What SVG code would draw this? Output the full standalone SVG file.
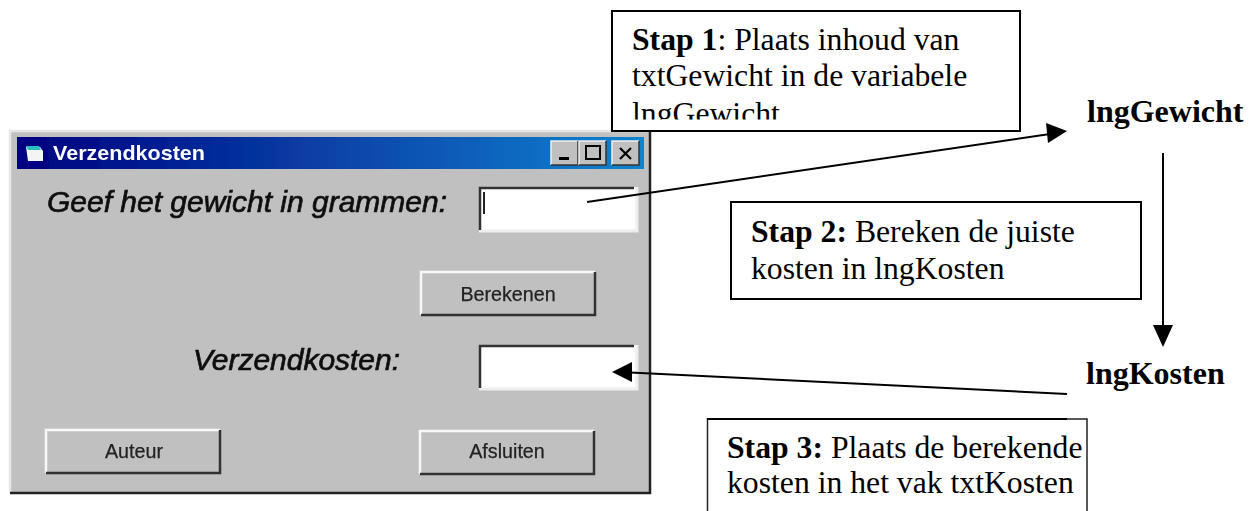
<svg xmlns="http://www.w3.org/2000/svg" width="1255" height="511" viewBox="0 0 1255 511">
<style>
.step{font-family:"Liberation Serif","Times New Roman",serif;font-size:31.700px;fill:#000}
.var{font-family:"Liberation Serif","Times New Roman",serif;font-size:32px;font-weight:bold;fill:#000}
.b{font-weight:bold}
.box{fill:#fff;stroke:#000;stroke-width:2}
.lbl{font-family:"Liberation Sans",Arial,sans-serif;font-size:29.500px;font-style:italic;fill:#111;stroke:#111;stroke-width:.7}
.btxt{font-family:"Liberation Sans",Arial,sans-serif;font-size:19.700px;fill:#222;stroke:#222;stroke-width:.25;text-anchor:middle}
.conn{stroke:#000;stroke-width:2;fill:none}
</style>
<defs>
<linearGradient id="title" x1="0" x2="1" y1="0" y2="0"><stop offset="0" stop-color="#000080"/><stop offset="1" stop-color="#1084d0"/></linearGradient>
<clipPath id="c1"><rect x="613" y="11" width="406" height="108.500"/></clipPath>
<filter id="soft" x="-2%" y="-2%" width="104%" height="104%"><feGaussianBlur stdDeviation="0.6"/></filter>
<g id="btn"><rect width="174" height="43" fill="#c0c0c0"/><path d="M0 43V0H174" fill="none" stroke="#f8f8f8" stroke-width="2.5"/><path d="M0 43H174V0" fill="none" stroke="#333" stroke-width="2.5"/></g>
<g id="tb"><rect width="158" height="44" fill="#fff"/><path d="M0 44H158V0" fill="none" stroke="#eee" stroke-width="3"/><path d="M1 43V1H155" fill="none" stroke="#333" stroke-width="2.5"/></g>
<g id="wb"><rect width="27" height="24" fill="#c0c0c0"/><path d="M0 24V0H27" fill="none" stroke="#eee" stroke-width="1.5"/><path d="M0 24H27V0" fill="none" stroke="#333" stroke-width="1.5"/></g>
</defs>
<rect width="1255" height="511" fill="#fff"/>
<g id="window" filter="url(#soft)">
<rect x="11" y="131" width="639" height="362" fill="#c0c0c0"/>
<path d="M10 493V131H650" fill="none" stroke="#e6e6e6" stroke-width="2.5"/>
<path d="M10 493H650V131" fill="none" stroke="#222" stroke-width="2.5"/>
<rect x="17" y="137" width="627" height="32" fill="url(#title)"/>
<path d="M26 147h14l3 4v10H28z" fill="#f4f4f4"/><path d="M26 146h13l2 4H28z" fill="#28c0c0"/>
<text x="53" y="160" font-family="'Liberation Sans',Arial,sans-serif" font-size="21" font-weight="bold" fill="#fff" textLength="152" lengthAdjust="spacingAndGlyphs">Verzendkosten</text>
<use href="#wb" x="551" y="141"/><use href="#wb" x="579" y="141"/><use href="#wb" x="612" y="141"/>
<rect x="559" y="157" width="10" height="3" fill="#000"/>
<rect x="586" y="146" width="14" height="13" fill="none" stroke="#000" stroke-width="2"/>
<path d="M620 148l11 11M631 148l-11 11" stroke="#000" stroke-width="2.2"/>
<text class="lbl" x="47" y="212" textLength="400" lengthAdjust="spacingAndGlyphs">Geef het gewicht in grammen:</text>
<text class="lbl" x="193" y="370" textLength="207" lengthAdjust="spacingAndGlyphs">Verzendkosten:</text>
<use href="#tb" x="479" y="187"/><rect x="483" y="192" width="2" height="22" fill="#222"/>
<use href="#tb" x="479" y="345"/>
<use href="#btn" x="421" y="272"/><text class="btxt" x="508" y="301">Berekenen</text>
<use href="#btn" x="46" y="430"/><text class="btxt" x="134" y="458">Auteur</text>
<use href="#btn" x="420" y="431"/><text class="btxt" x="507" y="458">Afsluiten</text>
</g>
<g id="connectors">
<path class="conn" d="M587 202L1050 134"/>
<path d="M1067 131L1046 123L1048 143Z"/>
<path class="conn" d="M1163 153V330"/>
<path d="M1163 347L1153 325H1173Z"/>
<path class="conn" d="M1067 394L630 372.500"/>
<path d="M612 372L632 362V382Z"/>
</g>
<g id="step1">
<rect class="box" x="612" y="11" width="408" height="120"/>
<g clip-path="url(#c1)">
<text class="step" x="632" y="50"><tspan class="b">Stap 1</tspan>: Plaats inhoud van</text>
<text class="step" x="632" y="86">txtGewicht in de variabele</text>
<text class="step" x="632" y="124">lngGewicht</text>
</g>
</g>
<g id="step2">
<rect class="box" x="731" y="202" width="410" height="97"/>
<text class="step" x="751" y="242"><tspan class="b">Stap 2:</tspan> Bereken de juiste</text>
<text class="step" x="751" y="279">kosten in lngKosten</text>
</g>
<g id="step3">
<path d="M707.500 511V419H1087V511" fill="#fff" stroke="#222" stroke-width="1.500"/>
<path d="M707 419H1067" stroke="#000" stroke-width="2"/>
<text class="step" x="727" y="458"><tspan class="b">Stap 3:</tspan> Plaats de berekende</text>
<text class="step" x="727" y="493">kosten in het vak txtKosten</text>
</g>
<g id="lngGewicht"><text class="var" x="1087" y="122">lngGewicht</text></g>
<g id="lngKosten"><text class="var" x="1086" y="384">lngKosten</text></g>
</svg>
